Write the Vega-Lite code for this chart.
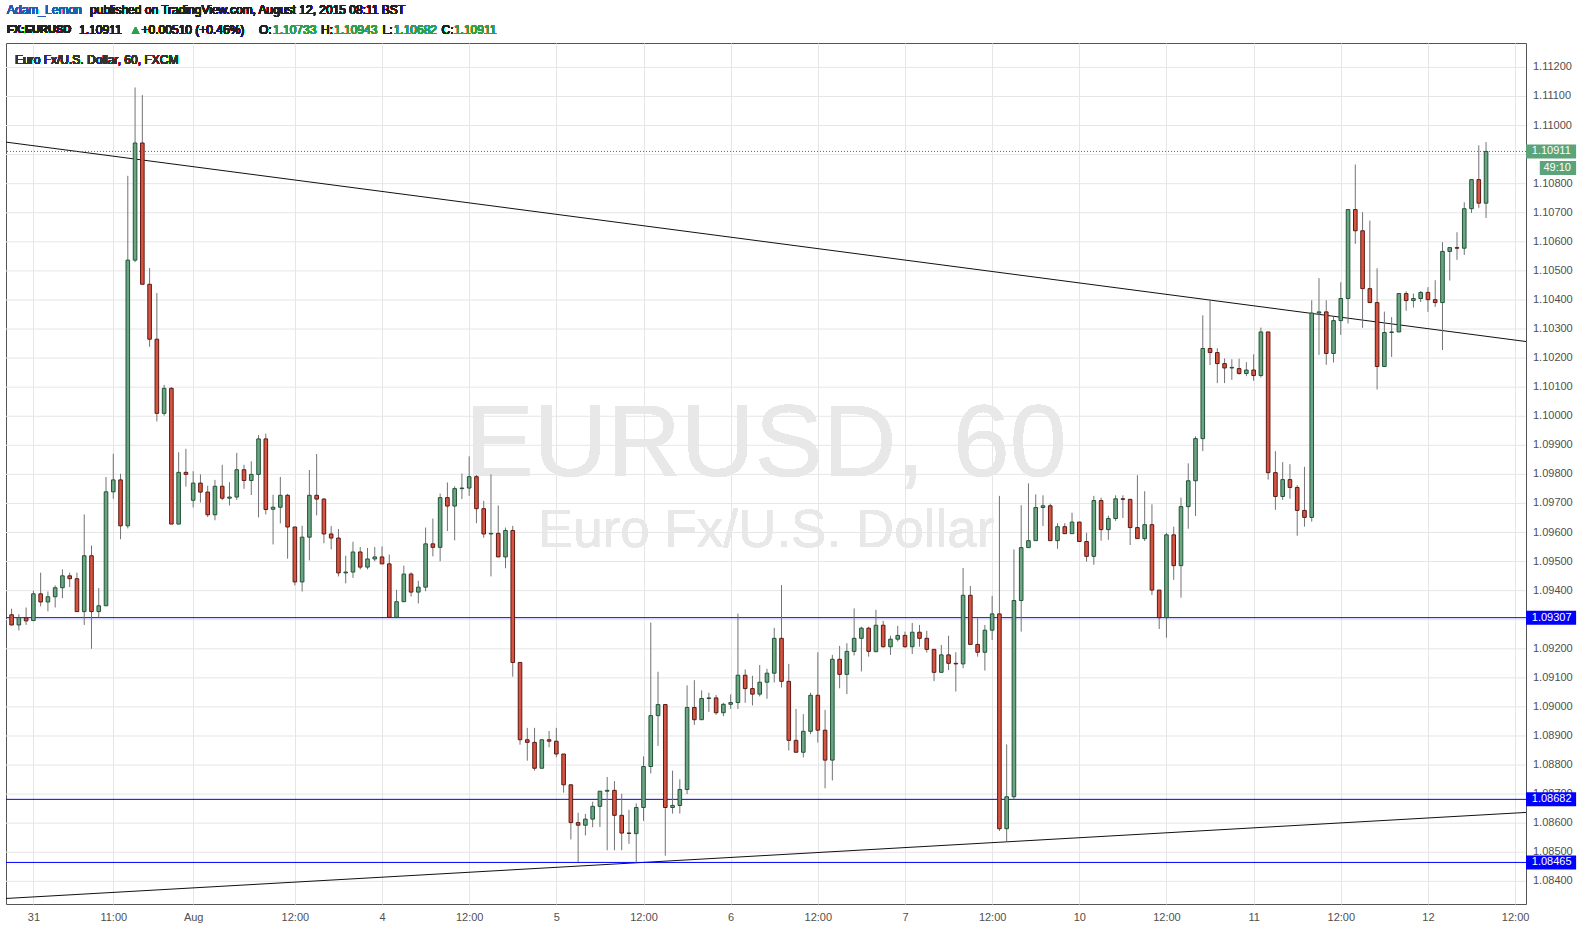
{
  "$schema": "https://vega.github.io/schema/vega-lite/v6.json",
  "width": 1520,
  "height": 861,
  "autosize": {"type": "none"},
  "padding": {"left": 6, "top": 43, "right": 61, "bottom": 31},
  "background": "#ffffff",
  "config": {
    "font": "Liberation Sans",
    "view": {"stroke": "#555555", "strokeWidth": 1},
    "axis": {"labelFont": "Liberation Sans", "labelFontSize": 11, "labelColor": "#4f4f4f", "gridColor": "#e6e6e6", "gridWidth": 1, "domainColor": "#555555", "tickColor": "#555555"},
    "axisY": {"disable": true, "labels": false, "grid": false, "ticks": false, "domain": false},
    "axisX": {"labelOverlap": false, "labelBound": false, "labelFlush": false, "labelPadding": 7, "ticks": false, "domain": false, "grid": true}
  },
  "datasets": {
    "candles": [
      {"i":-3,"o":1.09317,"h":1.09338,"l":1.0928,"c":1.09282},
      {"i":-2,"o":1.09282,"h":1.09319,"l":1.09263,"c":1.09307},
      {"i":-1,"o":1.09306,"h":1.09342,"l":1.09282,"c":1.09296},
      {"i":0,"o":1.09297,"h":1.094,"l":1.09297,"c":1.09389},
      {"i":1,"o":1.09389,"h":1.09462,"l":1.09346,"c":1.09361},
      {"i":2,"o":1.09361,"h":1.09397,"l":1.09329,"c":1.09379},
      {"i":3,"o":1.09379,"h":1.09418,"l":1.09342,"c":1.0941},
      {"i":4,"o":1.0941,"h":1.09473,"l":1.09374,"c":1.09451},
      {"i":5,"o":1.09451,"h":1.09462,"l":1.09412,"c":1.09441},
      {"i":6,"o":1.09441,"h":1.09462,"l":1.09328,"c":1.09328},
      {"i":7,"o":1.09328,"h":1.09662,"l":1.09282,"c":1.0952},
      {"i":8,"o":1.0952,"h":1.09555,"l":1.092,"c":1.09328},
      {"i":9,"o":1.09328,"h":1.09409,"l":1.09307,"c":1.09348},
      {"i":10,"o":1.09348,"h":1.09791,"l":1.09348,"c":1.0974},
      {"i":11,"o":1.0974,"h":1.09871,"l":1.09716,"c":1.09781},
      {"i":12,"o":1.09781,"h":1.09802,"l":1.09577,"c":1.09623},
      {"i":13,"o":1.09623,"h":1.10827,"l":1.09614,"c":1.10537},
      {"i":14,"o":1.10537,"h":1.11131,"l":1.1053,"c":1.1094},
      {"i":15,"o":1.1094,"h":1.11105,"l":1.10454,"c":1.10454},
      {"i":16,"o":1.10454,"h":1.1051,"l":1.10239,"c":1.10265},
      {"i":17,"o":1.10265,"h":1.10424,"l":1.09982,"c":1.1001},
      {"i":18,"o":1.1001,"h":1.10108,"l":1.10002,"c":1.10096},
      {"i":19,"o":1.10096,"h":1.101,"l":1.09629,"c":1.09629},
      {"i":20,"o":1.09629,"h":1.09876,"l":1.09629,"c":1.09807},
      {"i":21,"o":1.09807,"h":1.09888,"l":1.09758,"c":1.098},
      {"i":22,"o":1.09711,"h":1.09811,"l":1.09686,"c":1.0977},
      {"i":23,"o":1.0977,"h":1.098,"l":1.09703,"c":1.09739},
      {"i":24,"o":1.09739,"h":1.09761,"l":1.09653,"c":1.09661},
      {"i":25,"o":1.09661,"h":1.09781,"l":1.09642,"c":1.09759},
      {"i":26,"o":1.09759,"h":1.09833,"l":1.09711,"c":1.09718},
      {"i":27,"o":1.09718,"h":1.09773,"l":1.09693,"c":1.09722},
      {"i":28,"o":1.09722,"h":1.09874,"l":1.09712,"c":1.09816},
      {"i":29,"o":1.09816,"h":1.09833,"l":1.0975,"c":1.09779},
      {"i":30,"o":1.09779,"h":1.09845,"l":1.09729,"c":1.098},
      {"i":31,"o":1.098,"h":1.09935,"l":1.09652,"c":1.09922},
      {"i":32,"o":1.09922,"h":1.0994,"l":1.09662,"c":1.09679},
      {"i":33,"o":1.0968,"h":1.0973,"l":1.09559,"c":1.09687},
      {"i":34,"o":1.09687,"h":1.09791,"l":1.09631,"c":1.09728},
      {"i":35,"o":1.09728,"h":1.09733,"l":1.0951,"c":1.09619},
      {"i":36,"o":1.09619,"h":1.09619,"l":1.09418,"c":1.0943},
      {"i":37,"o":1.0943,"h":1.09623,"l":1.09397,"c":1.09584},
      {"i":38,"o":1.09584,"h":1.09815,"l":1.09504,"c":1.09728},
      {"i":39,"o":1.09728,"h":1.0987,"l":1.09659,"c":1.09715},
      {"i":40,"o":1.09715,"h":1.09719,"l":1.09563,"c":1.09595},
      {"i":41,"o":1.09595,"h":1.09622,"l":1.09542,"c":1.09581},
      {"i":42,"o":1.09581,"h":1.09612,"l":1.09449,"c":1.09461},
      {"i":43,"o":1.09461,"h":1.0952,"l":1.09425,"c":1.09464},
      {"i":44,"o":1.09464,"h":1.09568,"l":1.09444,"c":1.09533},
      {"i":45,"o":1.09533,"h":1.0955,"l":1.09473,"c":1.09481},
      {"i":46,"o":1.09481,"h":1.09547,"l":1.09473,"c":1.09509},
      {"i":47,"o":1.09509,"h":1.0955,"l":1.09501,"c":1.09516},
      {"i":48,"o":1.09516,"h":1.09552,"l":1.09492,"c":1.09492},
      {"i":49,"o":1.09492,"h":1.09524,"l":1.09308,"c":1.09308},
      {"i":50,"o":1.09308,"h":1.09403,"l":1.09305,"c":1.09362},
      {"i":51,"o":1.09362,"h":1.09486,"l":1.09362,"c":1.09457},
      {"i":52,"o":1.09457,"h":1.09463,"l":1.0938,"c":1.09395},
      {"i":53,"o":1.09395,"h":1.09434,"l":1.09356,"c":1.09412},
      {"i":54,"o":1.09412,"h":1.09617,"l":1.09398,"c":1.09561},
      {"i":55,"o":1.09561,"h":1.09648,"l":1.09518,"c":1.09549},
      {"i":56,"o":1.09549,"h":1.09734,"l":1.09501,"c":1.0972},
      {"i":57,"o":1.0972,"h":1.09772,"l":1.09605,"c":1.09691},
      {"i":58,"o":1.09691,"h":1.09759,"l":1.09573,"c":1.09751},
      {"i":59,"o":1.09751,"h":1.09803,"l":1.09715,"c":1.09753},
      {"i":60,"o":1.09753,"h":1.09862,"l":1.09726,"c":1.09792},
      {"i":61,"o":1.09792,"h":1.09798,"l":1.09632,"c":1.09682},
      {"i":62,"o":1.09682,"h":1.09709,"l":1.09582,"c":1.09595},
      {"i":63,"o":1.09595,"h":1.098,"l":1.09449,"c":1.09597},
      {"i":64,"o":1.09597,"h":1.09693,"l":1.09516,"c":1.09516},
      {"i":65,"o":1.09516,"h":1.09617,"l":1.09477,"c":1.09607},
      {"i":66,"o":1.09607,"h":1.09623,"l":1.09104,"c":1.09153},
      {"i":67,"o":1.09153,"h":1.09153,"l":1.0887,"c":1.08887},
      {"i":68,"o":1.08887,"h":1.08928,"l":1.08815,"c":1.08878},
      {"i":69,"o":1.08878,"h":1.08928,"l":1.08781,"c":1.08789},
      {"i":70,"o":1.08789,"h":1.08887,"l":1.08789,"c":1.08887},
      {"i":71,"o":1.08887,"h":1.08917,"l":1.08861,"c":1.08882},
      {"i":72,"o":1.08882,"h":1.08928,"l":1.08827,"c":1.08838},
      {"i":73,"o":1.08838,"h":1.08838,"l":1.08705,"c":1.08732},
      {"i":74,"o":1.08732,"h":1.08735,"l":1.08544,"c":1.08602},
      {"i":75,"o":1.08602,"h":1.08636,"l":1.08466,"c":1.08593},
      {"i":76,"o":1.08593,"h":1.08632,"l":1.08558,"c":1.08614},
      {"i":77,"o":1.08614,"h":1.08674,"l":1.08586,"c":1.08658},
      {"i":78,"o":1.08658,"h":1.0871,"l":1.08587,"c":1.0871},
      {"i":79,"o":1.0871,"h":1.08759,"l":1.08507,"c":1.08713},
      {"i":80,"o":1.08713,"h":1.08745,"l":1.08507,"c":1.08627},
      {"i":81,"o":1.08627,"h":1.08701,"l":1.08507,"c":1.08566},
      {"i":82,"o":1.08566,"h":1.08646,"l":1.08529,"c":1.08565},
      {"i":83,"o":1.08564,"h":1.08668,"l":1.08465,"c":1.08654},
      {"i":84,"o":1.08654,"h":1.0883,"l":1.08608,"c":1.08795},
      {"i":85,"o":1.08795,"h":1.0929,"l":1.08771,"c":1.0897},
      {"i":86,"o":1.0897,"h":1.09121,"l":1.08866,"c":1.09008},
      {"i":87,"o":1.09008,"h":1.09008,"l":1.08488,"c":1.08654},
      {"i":88,"o":1.08654,"h":1.08781,"l":1.08633,"c":1.08661},
      {"i":89,"o":1.08661,"h":1.08751,"l":1.08633,"c":1.08716},
      {"i":90,"o":1.08716,"h":1.09074,"l":1.087,"c":1.08998},
      {"i":91,"o":1.08998,"h":1.09092,"l":1.08938,"c":1.08956},
      {"i":92,"o":1.08956,"h":1.09057,"l":1.08956,"c":1.09029},
      {"i":93,"o":1.09029,"h":1.09049,"l":1.08983,"c":1.09031},
      {"i":94,"o":1.09031,"h":1.09041,"l":1.08973,"c":1.0898},
      {"i":95,"o":1.0898,"h":1.09014,"l":1.08968,"c":1.09009},
      {"i":96,"o":1.09009,"h":1.09043,"l":1.08993,"c":1.09015},
      {"i":97,"o":1.09015,"h":1.09321,"l":1.08993,"c":1.09109},
      {"i":98,"o":1.09109,"h":1.09129,"l":1.09014,"c":1.09063},
      {"i":99,"o":1.09063,"h":1.09107,"l":1.09005,"c":1.09044},
      {"i":100,"o":1.09044,"h":1.09144,"l":1.09036,"c":1.09085},
      {"i":101,"o":1.09085,"h":1.09131,"l":1.09028,"c":1.09116},
      {"i":102,"o":1.09116,"h":1.09272,"l":1.09084,"c":1.09236},
      {"i":103,"o":1.09236,"h":1.09419,"l":1.09067,"c":1.09088},
      {"i":104,"o":1.09088,"h":1.09148,"l":1.0885,"c":1.08885},
      {"i":105,"o":1.08885,"h":1.08993,"l":1.08844,"c":1.08844},
      {"i":106,"o":1.08844,"h":1.08975,"l":1.08826,"c":1.08916},
      {"i":107,"o":1.08916,"h":1.09049,"l":1.08906,"c":1.0904},
      {"i":108,"o":1.0904,"h":1.09188,"l":1.08877,"c":1.0892},
      {"i":109,"o":1.0892,"h":1.0899,"l":1.0872,"c":1.08817},
      {"i":110,"o":1.08817,"h":1.09179,"l":1.08747,"c":1.09164},
      {"i":111,"o":1.09164,"h":1.0921,"l":1.09064,"c":1.09112},
      {"i":112,"o":1.09112,"h":1.09219,"l":1.09044,"c":1.09191},
      {"i":113,"o":1.09191,"h":1.09339,"l":1.09177,"c":1.09236},
      {"i":114,"o":1.09236,"h":1.09276,"l":1.09122,"c":1.09271},
      {"i":115,"o":1.09271,"h":1.09276,"l":1.09173,"c":1.09191},
      {"i":116,"o":1.0919,"h":1.09334,"l":1.0919,"c":1.09281},
      {"i":117,"o":1.09281,"h":1.09296,"l":1.09204,"c":1.09207},
      {"i":118,"o":1.09207,"h":1.09245,"l":1.09179,"c":1.09233},
      {"i":119,"o":1.09233,"h":1.09279,"l":1.09225,"c":1.09246},
      {"i":120,"o":1.09246,"h":1.09259,"l":1.09204,"c":1.09207},
      {"i":121,"o":1.09207,"h":1.09289,"l":1.09182,"c":1.09257},
      {"i":122,"o":1.09257,"h":1.09282,"l":1.09207,"c":1.09236},
      {"i":123,"o":1.09236,"h":1.09262,"l":1.09187,"c":1.09198},
      {"i":124,"o":1.09198,"h":1.09198,"l":1.09089,"c":1.09119},
      {"i":125,"o":1.09119,"h":1.09213,"l":1.09119,"c":1.09179},
      {"i":126,"o":1.09179,"h":1.09245,"l":1.09127,"c":1.0915},
      {"i":127,"o":1.0915,"h":1.09188,"l":1.09053,"c":1.09148},
      {"i":128,"o":1.09148,"h":1.09478,"l":1.09133,"c":1.09384},
      {"i":129,"o":1.09384,"h":1.09416,"l":1.09215,"c":1.09215},
      {"i":130,"o":1.09215,"h":1.09305,"l":1.09173,"c":1.09188},
      {"i":131,"o":1.09188,"h":1.09282,"l":1.09125,"c":1.09264},
      {"i":132,"o":1.09264,"h":1.09382,"l":1.0923,"c":1.0932},
      {"i":133,"o":1.0932,"h":1.09726,"l":1.08573,"c":1.08581},
      {"i":134,"o":1.08581,"h":1.08871,"l":1.08538,"c":1.08691},
      {"i":135,"o":1.08691,"h":1.09542,"l":1.08682,"c":1.09366},
      {"i":136,"o":1.09366,"h":1.09694,"l":1.09259,"c":1.09548},
      {"i":137,"o":1.09548,"h":1.09769,"l":1.09548,"c":1.09572},
      {"i":138,"o":1.09572,"h":1.09731,"l":1.09572,"c":1.09686},
      {"i":139,"o":1.09686,"h":1.09728,"l":1.09622,"c":1.09692},
      {"i":140,"o":1.09692,"h":1.09699,"l":1.09572,"c":1.09572},
      {"i":141,"o":1.09572,"h":1.09632,"l":1.09544,"c":1.0962},
      {"i":142,"o":1.0962,"h":1.09632,"l":1.09596,"c":1.09596},
      {"i":143,"o":1.09596,"h":1.09668,"l":1.09596,"c":1.09636},
      {"i":144,"o":1.09636,"h":1.09636,"l":1.09569,"c":1.09569},
      {"i":145,"o":1.09569,"h":1.09599,"l":1.095,"c":1.09518},
      {"i":146,"o":1.09518,"h":1.09726,"l":1.09489,"c":1.0971},
      {"i":147,"o":1.0971,"h":1.0972,"l":1.09572,"c":1.0961},
      {"i":148,"o":1.0961,"h":1.09658,"l":1.09575,"c":1.09648},
      {"i":149,"o":1.09648,"h":1.09728,"l":1.0964,"c":1.09716},
      {"i":150,"o":1.09716,"h":1.09728,"l":1.0965,"c":1.09714},
      {"i":151,"o":1.09714,"h":1.09716,"l":1.09557,"c":1.09617},
      {"i":152,"o":1.09617,"h":1.09797,"l":1.09579,"c":1.09579},
      {"i":153,"o":1.09579,"h":1.09742,"l":1.09571,"c":1.09627},
      {"i":154,"o":1.09627,"h":1.09697,"l":1.09385,"c":1.09402},
      {"i":155,"o":1.09402,"h":1.09402,"l":1.09268,"c":1.09307},
      {"i":156,"o":1.09307,"h":1.09599,"l":1.09238,"c":1.09592},
      {"i":157,"o":1.09592,"h":1.0962,"l":1.09437,"c":1.09486},
      {"i":158,"o":1.09486,"h":1.0972,"l":1.09376,"c":1.09689},
      {"i":159,"o":1.09689,"h":1.09838,"l":1.09613,"c":1.09778},
      {"i":160,"o":1.09778,"h":1.09931,"l":1.09657,"c":1.09923},
      {"i":161,"o":1.09923,"h":1.10347,"l":1.0988,"c":1.10233},
      {"i":162,"o":1.10233,"h":1.104,"l":1.10176,"c":1.10219},
      {"i":163,"o":1.10219,"h":1.10234,"l":1.10114,"c":1.10181},
      {"i":164,"o":1.10181,"h":1.10199,"l":1.10114,"c":1.10166},
      {"i":165,"o":1.10166,"h":1.10196,"l":1.10125,"c":1.10168},
      {"i":166,"o":1.10164,"h":1.10198,"l":1.10143,"c":1.10147},
      {"i":167,"o":1.10147,"h":1.10186,"l":1.10138,"c":1.10159},
      {"i":168,"o":1.10159,"h":1.10213,"l":1.10122,"c":1.1014},
      {"i":169,"o":1.1014,"h":1.10305,"l":1.10133,"c":1.1029},
      {"i":170,"o":1.1029,"h":1.1029,"l":1.09782,"c":1.09806},
      {"i":171,"o":1.09806,"h":1.0988,"l":1.09678,"c":1.09724},
      {"i":172,"o":1.09724,"h":1.09842,"l":1.09712,"c":1.09782},
      {"i":173,"o":1.09782,"h":1.09835,"l":1.09716,"c":1.09755},
      {"i":174,"o":1.09755,"h":1.09763,"l":1.09589,"c":1.09676},
      {"i":175,"o":1.09676,"h":1.09826,"l":1.0962,"c":1.09652},
      {"i":176,"o":1.09652,"h":1.10399,"l":1.09637,"c":1.10355},
      {"i":177,"o":1.10355,"h":1.10475,"l":1.10211,"c":1.10359},
      {"i":178,"o":1.10359,"h":1.10399,"l":1.10177,"c":1.10216},
      {"i":179,"o":1.10216,"h":1.10342,"l":1.10185,"c":1.10329},
      {"i":180,"o":1.10329,"h":1.10461,"l":1.1028,"c":1.10405},
      {"i":181,"o":1.10405,"h":1.10711,"l":1.10319,"c":1.10711},
      {"i":182,"o":1.10711,"h":1.10866,"l":1.10593,"c":1.10638},
      {"i":183,"o":1.10638,"h":1.10702,"l":1.10304,"c":1.10439},
      {"i":184,"o":1.10439,"h":1.10673,"l":1.10391,"c":1.10391},
      {"i":185,"o":1.10391,"h":1.10509,"l":1.10092,"c":1.10171},
      {"i":186,"o":1.10171,"h":1.1036,"l":1.10171,"c":1.10288},
      {"i":187,"o":1.10288,"h":1.10341,"l":1.10204,"c":1.1029},
      {"i":188,"o":1.1029,"h":1.10422,"l":1.1029,"c":1.10422},
      {"i":189,"o":1.10422,"h":1.1043,"l":1.10363,"c":1.10398},
      {"i":190,"o":1.10398,"h":1.10422,"l":1.10374,"c":1.10405},
      {"i":191,"o":1.10405,"h":1.1043,"l":1.10393,"c":1.10426},
      {"i":192,"o":1.10426,"h":1.10444,"l":1.10359,"c":1.10401},
      {"i":193,"o":1.10401,"h":1.10468,"l":1.10376,"c":1.10391},
      {"i":194,"o":1.10391,"h":1.10599,"l":1.10228,"c":1.10567},
      {"i":195,"o":1.10567,"h":1.1058,"l":1.10467,"c":1.1058},
      {"i":196,"o":1.1058,"h":1.10633,"l":1.10538,"c":1.10578},
      {"i":197,"o":1.10578,"h":1.10736,"l":1.10555,"c":1.10714},
      {"i":198,"o":1.10714,"h":1.10814,"l":1.10699,"c":1.10814},
      {"i":199,"o":1.10814,"h":1.10932,"l":1.10717,"c":1.10733},
      {"i":200,"o":1.10733,"h":1.10943,"l":1.10682,"c":1.10911}
    ],
    "pricegrid": [
      {"p":1.084},{"p":1.085},{"p":1.086},{"p":1.087},{"p":1.088},{"p":1.089},{"p":1.09},{"p":1.091},{"p":1.092},{"p":1.093},
      {"p":1.094},{"p":1.095},{"p":1.096},{"p":1.097},{"p":1.098},{"p":1.099},{"p":1.1},{"p":1.101},{"p":1.102},{"p":1.103},
      {"p":1.104},{"p":1.105},{"p":1.106},{"p":1.107},{"p":1.108},{"p":1.109},{"p":1.11},{"p":1.111},{"p":1.112}
    ],
    "levels": [
      {"price": 1.09307, "label": "1.09307"},
      {"price": 1.08682, "label": "1.08682"},
      {"price": 1.08465, "label": "1.08465"}
    ],
    "trend": [
      {"t0": -3.77, "p0": 1.10943, "t1": 205.5, "p1": 1.10257},
      {"t0": -3.77, "p0": 1.08341, "t1": 205.5, "p1": 1.08637}
    ],
    "last": [
      {"price": 1.10911, "label": "1.10911"}
    ],
    "countdown": [
      {"price": 1.10854, "label": "49:10"}
    ]
  },
  "data": {"name": "candles"},
  "encoding": {
    "x": {"type": "quantitative", "scale": {"domain": [-3.77, 205.5], "nice": false, "zero": false, "padding": 0}},
    "y": {"type": "quantitative", "scale": {"domain": [1.08322, 1.11284], "nice": false, "zero": false, "padding": 0}}
  },
  "layer": [
    {
      "data": {"name": "pricegrid"},
      "mark": {"type": "rule", "color": "#e6e6e6", "strokeWidth": 1},
      "encoding": {
        "x": null,
        "y": {"field": "p", "type": "quantitative",
          "scale": {"domain": [1.08322, 1.11284], "nice": false, "zero": false, "padding": 0},
          "axis": {"title": null, "labels": false, "grid": false, "ticks": false, "domain": false}}
      }
    },
    {
      "mark": {"type": "text", "fontSize": 102, "color": "#e8e8e8", "align": "center", "baseline": "middle", "font": "Liberation Sans"},
      "encoding": {
        "x": {"datum": 100.87, "type": "quantitative",
          "scale": {"domain": [-3.77, 205.5], "nice": false, "zero": false, "padding": 0},
          "axis": {"orient": "bottom", "title": null, "values": [0,11,22,36,48,60,72,84,96,108,120,132,144,156,168,180,192,204],
            "labelExpr": "['31','11:00','Aug','12:00','4','12:00','5','12:00','6','12:00','7','12:00','10','12:00','11','12:00','12','12:00'][indexof([0,11,22,36,48,60,72,84,96,108,120,132,144,156,168,180,192,204], datum.value)]",
            "grid": true, "domain": false, "ticks": false, "labelPadding": 7, "labelOverlap": false, "labelBound": false, "labelFlush": false}},
        "y": {"datum": 1.09901, "type": "quantitative"},
        "text": {"value": "EURUSD, 60"}
      }
    },
    {
      "mark": {"type": "text", "fontSize": 53, "color": "#e8e8e8", "align": "center", "baseline": "middle", "font": "Liberation Sans"},
      "encoding": {
        "x": {"datum": 100.87, "type": "quantitative"},
        "y": {"datum": 1.09605, "type": "quantitative"},
        "text": {"value": "Euro Fx/U.S. Dollar"}
      }
    },
    {
      "data": {"name": "trend"},
      "mark": {"type": "rule", "color": "#111111", "strokeWidth": 1},
      "encoding": {
        "x": {"field": "t0", "type": "quantitative"},
        "y": {"field": "p0", "type": "quantitative"},
        "x2": {"field": "t1"},
        "y2": {"field": "p1"}
      }
    },
    {
      "data": {"name": "levels"},
      "mark": {"type": "rule", "color": "#0000ff", "strokeWidth": 1},
      "encoding": {
        "x": null,
        "y": {"field": "price", "type": "quantitative"}
      }
    },
    {
      "data": {"name": "last"},
      "mark": {"type": "rule", "color": "#3a7d55", "strokeWidth": 1, "strokeDash": [1, 2]},
      "encoding": {
        "x": null,
        "y": {"field": "price", "type": "quantitative"}
      }
    },
    {
      "mark": {"type": "rule", "color": "#737375", "strokeWidth": 1},
      "encoding": {
        "x": {"field": "i", "type": "quantitative"},
        "y": {"field": "l", "type": "quantitative"},
        "y2": {"field": "h"}
      }
    },
    {
      "mark": {"type": "bar", "size": 3.6, "strokeWidth": 1, "orient": "vertical"},
      "encoding": {
        "x": {"field": "i", "type": "quantitative", "scale": {"padding": 0}},
        "y": {"field": "o", "type": "quantitative"},
        "y2": {"field": "c"},
        "fill": {"condition": {"test": "datum.c >= datum.o", "value": "#6ba583"}, "value": "#d75442"},
        "stroke": {"condition": {"test": "datum.c >= datum.o", "value": "#225437"}, "value": "#5b1a13"}
      }
    },
    {
      "data": {"name": "pricegrid"},
      "transform": [{"filter": "datum.p != 1.093 && datum.p != 1.109"}],
      "mark": {"type": "text", "fontSize": 11, "color": "#4f4f4f", "align": "left", "baseline": "middle", "font": "Liberation Sans"},
      "encoding": {
        "x": {"datum": 206.46, "type": "quantitative"},
        "y": {"field": "p", "type": "quantitative"},
        "text": {"field": "p", "type": "quantitative", "format": ".5f"}
      }
    },
    {
      "data": {"name": "levels"},
      "mark": {"type": "bar", "size": 14, "color": "#0000ff", "orient": "horizontal"},
      "encoding": {
        "x": {"datum": 205.5, "type": "quantitative"},
        "x2": {"datum": 212.4},
        "y": {"field": "price", "type": "quantitative", "scale": {"padding": 0}}
      }
    },
    {
      "data": {"name": "last"},
      "mark": {"type": "bar", "size": 14, "color": "#5da37a", "orient": "horizontal"},
      "encoding": {
        "x": {"datum": 205.5, "type": "quantitative"},
        "x2": {"datum": 212.4},
        "y": {"field": "price", "type": "quantitative", "scale": {"padding": 0}}
      }
    },
    {
      "data": {"name": "countdown"},
      "mark": {"type": "bar", "size": 14, "color": "#5da37a", "orient": "horizontal"},
      "encoding": {
        "x": {"datum": 207.4, "type": "quantitative"},
        "x2": {"datum": 212.4},
        "y": {"field": "price", "type": "quantitative", "scale": {"padding": 0}}
      }
    },
    {
      "data": {"name": "levels"},
      "mark": {"type": "text", "fontSize": 11, "color": "#ffffff", "align": "left", "baseline": "middle"},
      "encoding": {
        "x": {"datum": 206.3, "type": "quantitative"},
        "y": {"field": "price", "type": "quantitative"},
        "text": {"field": "label"}
      }
    },
    {
      "data": {"name": "last"},
      "mark": {"type": "text", "fontSize": 11, "color": "#ffffff", "align": "left", "baseline": "middle"},
      "encoding": {
        "x": {"datum": 206.3, "type": "quantitative"},
        "y": {"field": "price", "type": "quantitative"},
        "text": {"field": "label"}
      }
    },
    {
      "data": {"name": "countdown"},
      "mark": {"type": "text", "fontSize": 11, "color": "#ffffff", "align": "left", "baseline": "middle"},
      "encoding": {
        "x": {"datum": 207.9, "type": "quantitative"},
        "y": {"field": "price", "type": "quantitative"},
        "text": {"field": "label"}
      }
    },
    {
      "mark": {"type": "text", "fontSize": 12, "color": "#333333", "align": "left", "baseline": "middle"},
      "encoding": {
        "x": {"datum": -2.53, "type": "quantitative"},
        "y": {"datum": 1.11227, "type": "quantitative"},
        "text": {"value": "Euro Fx/U.S. Dollar, 60, FXCM"}
      }
    },
    {
      "mark": {"type": "text", "fontSize": 12, "color": "#1e5fb4", "align": "left", "baseline": "middle"},
      "encoding": {
        "x": {"datum": -3.63, "type": "quantitative"},
        "y": {"datum": 1.11396, "type": "quantitative"},
        "text": {"value": "Adam_Lemon"}
      }
    },
    {
      "mark": {"type": "text", "fontSize": 12, "color": "#222222", "align": "left", "baseline": "middle"},
      "encoding": {
        "x": {"datum": 7.8, "type": "quantitative"},
        "y": {"datum": 1.11396, "type": "quantitative"},
        "text": {"value": "published on TradingView.com, August 12, 2015 08:11 BST"}
      }
    },
    {
      "mark": {"type": "text", "fontSize": 11, "fontWeight": "bold", "color": "#222222", "align": "left", "baseline": "middle"},
      "encoding": {
        "x": {"datum": -3.63, "type": "quantitative"},
        "y": {"datum": 1.1133, "type": "quantitative"},
        "text": {"value": "FX:EURUSD"}
      }
    },
    {
      "mark": {"type": "text", "fontSize": 12, "color": "#222222", "align": "left", "baseline": "middle"},
      "encoding": {
        "x": {"datum": 6.3, "type": "quantitative"},
        "y": {"datum": 1.1133, "type": "quantitative"},
        "text": {"value": "1.10911"}
      }
    },
    {
      "mark": {"type": "text", "fontSize": 12, "color": "#2e9e4f", "align": "left", "baseline": "middle"},
      "encoding": {
        "x": {"datum": 13.23, "type": "quantitative"},
        "y": {"datum": 1.1133, "type": "quantitative"},
        "text": {"value": "▲"}
      }
    },
    {
      "mark": {"type": "text", "fontSize": 12, "color": "#222222", "align": "left", "baseline": "middle"},
      "encoding": {
        "x": {"datum": 14.9, "type": "quantitative"},
        "y": {"datum": 1.1133, "type": "quantitative"},
        "text": {"value": "+0.00510 (+0.46%)"}
      }
    },
    {
      "mark": {"type": "text", "fontSize": 12, "color": "#222222", "align": "left", "baseline": "middle"},
      "encoding": {"x": {"datum": 31.06, "type": "quantitative"}, "y": {"datum": 1.1133, "type": "quantitative"}, "text": {"value": "O:"}}
    },
    {
      "mark": {"type": "text", "fontSize": 12, "color": "#2e9e4f", "align": "left", "baseline": "middle"},
      "encoding": {"x": {"datum": 32.99, "type": "quantitative"}, "y": {"datum": 1.1133, "type": "quantitative"}, "text": {"value": "1.10733"}}
    },
    {
      "mark": {"type": "text", "fontSize": 12, "color": "#222222", "align": "left", "baseline": "middle"},
      "encoding": {"x": {"datum": 39.6, "type": "quantitative"}, "y": {"datum": 1.1133, "type": "quantitative"}, "text": {"value": "H:"}}
    },
    {
      "mark": {"type": "text", "fontSize": 12, "color": "#2e9e4f", "align": "left", "baseline": "middle"},
      "encoding": {"x": {"datum": 41.39, "type": "quantitative"}, "y": {"datum": 1.1133, "type": "quantitative"}, "text": {"value": "1.10943"}}
    },
    {
      "mark": {"type": "text", "fontSize": 12, "color": "#222222", "align": "left", "baseline": "middle"},
      "encoding": {"x": {"datum": 48.07, "type": "quantitative"}, "y": {"datum": 1.1133, "type": "quantitative"}, "text": {"value": "L:"}}
    },
    {
      "mark": {"type": "text", "fontSize": 12, "color": "#2e9e4f", "align": "left", "baseline": "middle"},
      "encoding": {"x": {"datum": 49.6, "type": "quantitative"}, "y": {"datum": 1.1133, "type": "quantitative"}, "text": {"value": "1.10682"}}
    },
    {
      "mark": {"type": "text", "fontSize": 12, "color": "#222222", "align": "left", "baseline": "middle"},
      "encoding": {"x": {"datum": 56.2, "type": "quantitative"}, "y": {"datum": 1.1133, "type": "quantitative"}, "text": {"value": "C:"}}
    },
    {
      "mark": {"type": "text", "fontSize": 12, "color": "#2e9e4f", "align": "left", "baseline": "middle"},
      "encoding": {"x": {"datum": 57.9, "type": "quantitative"}, "y": {"datum": 1.1133, "type": "quantitative"}, "text": {"value": "1.10911"}}
    }
  ]
}
